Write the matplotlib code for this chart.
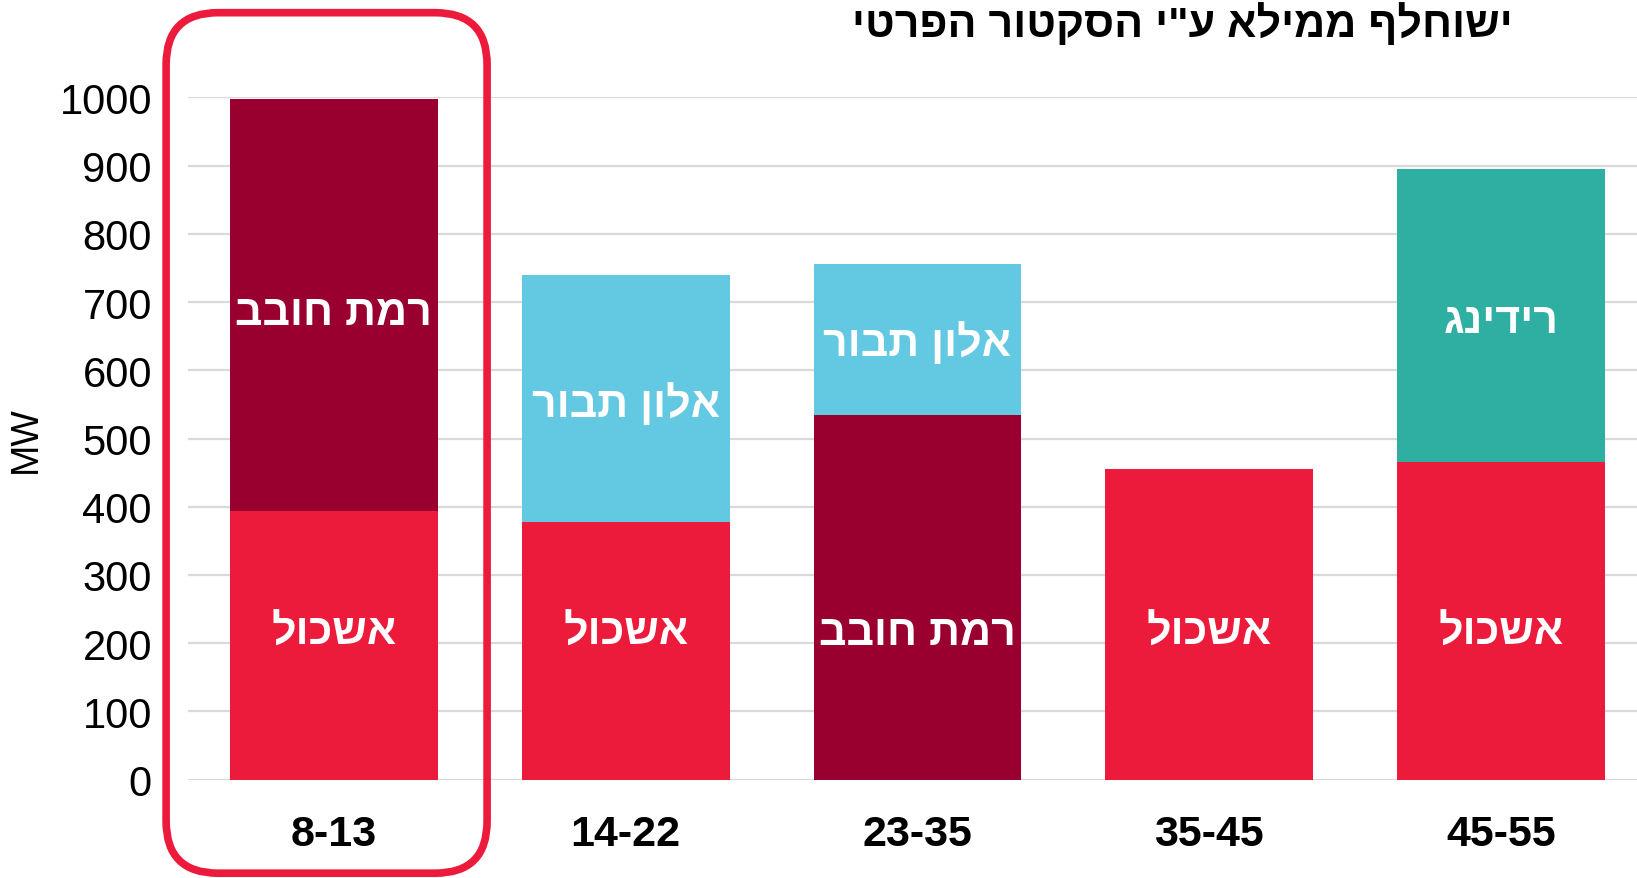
import numpy as np
import matplotlib
matplotlib.use("Agg")
import matplotlib.pyplot as plt
from matplotlib.patches import FancyBboxPatch
from matplotlib.transforms import IdentityTransform

plt.rcParams['font.family'] = ['Liberation Sans', 'DejaVu Sans']

# data
ranges = ["8-13", "14-22", "23-35", "35-45", "45-55"]
bottom_names = ["אשכול", "אשכול", "רמת חובב", "אשכול", "אשכול"]
bottom_values = [394, 377, 535, 456, 466]
top_names = ["רמת חובב", "אלון תבור", "אלון תבור", "", "רידינג"]
top_values = [603, 363, 220, 0, 429]
title = 'ישוחלף ממילא ע"י הסקטור הפרטי'

colors = {
    "אשכול": "#ED1B3B",
    "רמת חובב": "#990030",
    "אלון תבור": "#63C9E2",
    "רידינג": "#2EAFA2",
    "": "white",
}


def rtl(s):
    # matplotlib has no bidi, so flip hebrew text to visual order
    return s[::-1]


W, H = 1637, 879
step = 291.8  # pixels between bar centres
fig = plt.figure(figsize=(W / 100, H / 100), dpi=100)
ax = fig.add_axes([188 / W, 1 - 780.7 / H, 1 - 188 / W, (780.7 - 98.3) / H])

x = np.arange(len(ranges))
ax.bar(x, bottom_values, width=0.712, color=[colors[n] for n in bottom_names], zorder=3)
ax.bar(x, top_values, width=0.712, bottom=bottom_values,
       color=[colors[n] for n in top_names], zorder=3)

# labels inside the bars
for i in range(len(ranges)):
    ax.text(x[i], 215, rtl(bottom_names[i]), color="white", fontsize=31,
            fontweight="bold", ha="center", va="center", zorder=4)
    if top_names[i]:
        ax.text(x[i], bottom_values[i] + top_values[i] * 0.48, rtl(top_names[i]),
                color="white", fontsize=31, fontweight="bold",
                ha="center", va="center", zorder=4)

ax.set_xlim(-0.5, -0.5 + (W - 188) / step)
ax.set_ylim(0, 1000)
ax.set_yticks(np.arange(0, 1001, 100))
ax.set_xticks(x)
ax.set_xticklabels(ranges, fontsize=31, fontweight="bold")
ax.tick_params(axis="y", length=0, labelsize=30, pad=26)
ax.tick_params(axis="x", length=0, pad=25)
ax.yaxis.grid(True, color="#D9D9D9", linewidth=1.6, zorder=0)
ax.set_axisbelow(True)
for s in ax.spines.values():
    s.set_visible(False)

fig.text(26 / W, 1 - 440 / H, "MW", rotation=90, fontsize=27,
         ha="center", va="center")
fig.text(1182 / W, 1 - 25 / H, rtl(title), fontsize=31, fontweight="bold",
         ha="center", va="center")

# rounded highlight around the first group
(x0, y0), (x1, y1) = ax.transData.transform([(-0.575, -137), (0.525, 1124)])
box = FancyBboxPatch((x0, y0), x1 - x0, y1 - y0,
                     boxstyle="round,pad=0,rounding_size=52",
                     transform=IdentityTransform(), facecolor="none",
                     edgecolor="#ED1B3B", linewidth=5.5, clip_on=False, zorder=5)
fig.add_artist(box)

fig.savefig("out.png", dpi=100)
